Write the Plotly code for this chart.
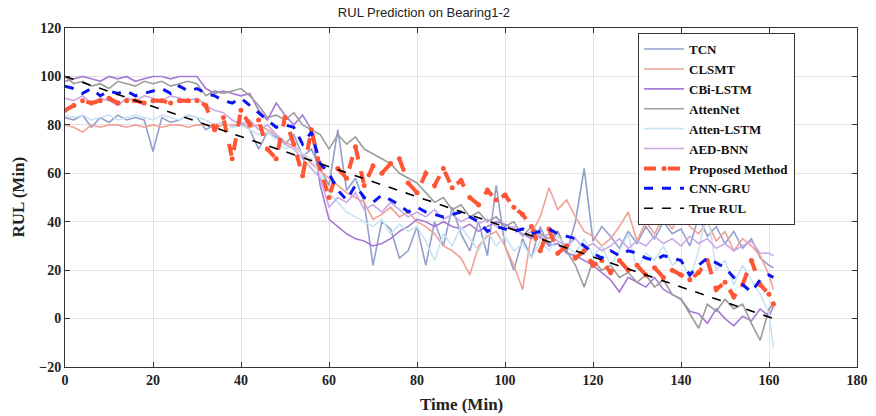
import plotly.graph_objects as go

time = list(range(0, 161, 2)) + [161]

true_t = [0, 161]
true_rul = [100, 0]

tcn = [83, 82, 84, 79, 83, 81, 84, 82, 83, 82,
       69, 83, 81, 82, 84, 83, 78, 80, 81, 79,
       81, 78, 70, 77, 75, 72, 76, 67, 70, 62,
       55, 78, 53, 58, 48, 22, 40, 37, 25, 28,
       38, 22, 40, 30, 46, 35, 28, 40, 26, 55,
       30, 20, 33, 25, 38, 30, 36, 27, 40, 62,
       32, 38, 34, 29, 36, 31, 38, 33, 40, 35,
       37, 30, 42, 34, 38, 31, 36, 29, 33, 25,
       22, 21]

clsmt = [80, 79, 77, 80, 79, 80, 80, 79, 80, 79,
         80, 79, 80, 80, 79, 80, 80, 79, 80, 80,
         80, 79, 80, 78, 76, 73, 71, 68, 64, 61,
         58, 55, 52, 50, 48, 41, 43, 46, 42, 44,
         40, 38, 35, 30, 28, 25, 18, 30, 34, 36,
         30, 22, 12, 35, 42, 54, 45, 49, 42, 36,
         34, 30, 33, 38, 44, 32, 40, 35, 42, 37,
         44, 38, 35, 40, 32, 36, 28, 33, 30, 26,
         18, 12]

cbi_lstm = [98, 99, 100, 99, 98, 100, 99, 100, 98, 99,
            100, 100, 99, 100, 100, 100, 95, 93, 94, 93,
            92, 93, 86, 82, 89, 84, 80, 84, 78, 55,
            41, 38, 35, 33, 32, 30, 31, 33, 36, 38,
            41, 40, 38, 40, 38, 37, 39, 36, 38, 40,
            39, 37, 35, 33, 34, 30, 31, 27, 26, 24,
            22, 19, 16, 11, 17, 15, 13, 17, 12, 10,
            8, 3, 2, -2, 4, 0, -3, 1, -1, 4,
            1, 5]

attennet = [100, 97, 98, 96, 97, 95, 98, 97, 96, 98,
            97, 98, 96, 97, 98, 97, 92, 94, 93, 94,
            95, 92, 88, 83, 84, 82, 85, 80, 78, 76,
            70, 76, 72, 75, 70, 68, 66, 64, 60, 58,
            56, 52, 48, 50, 45, 47, 42, 44, 40, 42,
            38, 40, 34, 38, 35, 33, 36, 28, 22, 13,
            24, 20, 22, 17, 19, 15, 18, 13, 16, 10,
            8, 2, -4, 6, 3, 8, 4, 6, -2, -9,
            4, 6]

atten_lstm = [84, 83, 84, 82, 83, 84, 82, 83, 84, 83,
              82, 84, 83, 82, 84, 83, 82, 80, 81, 79,
              80, 78, 76, 77, 74, 70, 72, 68, 66, 60,
              52, 48, 44, 42, 40, 38, 41, 35, 39, 36,
              38, 32, 24, 35, 30, 38, 33, 28, 36, 30,
              34, 28, 31, 25, 32, 28, 34, 30, 27, 33,
              26, 30, 22, 28, 35, 20, 27, 24, 30, 22,
              25, 16, 28, 45, 20, 24, 14, 22, 16, 10,
              2, -12]

aed_bnn = [91, 90, 92, 89, 91, 90, 88, 91, 90, 92,
           91, 90, 92, 91, 90, 91, 88, 86, 85, 82,
           80, 82, 78, 80, 76, 72, 70, 66, 62, 58,
           46, 50, 48, 52, 45, 47, 44, 48, 45, 42,
           44, 42, 45, 41, 43, 40, 42, 39, 41, 38,
           37, 38, 34, 36, 33, 35, 32, 30, 33, 29,
           31, 28, 30, 33, 29, 32, 30, 34, 31, 33,
           30, 34, 31, 33, 29, 31, 28, 30, 32, 27,
           27, 26]

proposed = [86, 88, 90, 89, 90, 91, 89, 90, 90, 89,
            90, 90, 89, 90, 90, 90, 88, 78, 83, 66,
            86, 80, 82, 70, 66, 83, 72, 59, 78, 62,
            50, 62, 58, 71, 55, 63, 60, 64, 66, 56,
            52, 60, 55, 62, 54, 57, 50, 47, 53, 49,
            51, 46, 43, 38, 28, 37, 27, 30, 25, 28,
            22, 24, 19, 24, 20, 22, 18, 21, 17, 20,
            18, 16, 19, 24, 12, 15, 9, 14, 24, 14,
            10, 6]

cnn_gru = [96, 95, 93, 95, 92, 94, 93, 94, 92, 93,
           94, 95, 93, 96, 94, 95, 93, 92, 90, 89,
           91, 88, 85, 82, 79, 80, 79, 72, 77, 64,
           60, 53, 49, 55, 50, 48, 51, 49, 47, 44,
           46, 44, 43, 42, 43, 44, 42, 40, 36, 38,
           37, 36, 37, 35, 36, 37, 35, 34, 33, 30,
           27, 25, 28, 26, 28, 27, 25, 24, 26, 25,
           24, 18, 22, 25, 23, 21, 17, 14, 11, 16,
           18, 17]

series = [
    ("TCN", tcn, "#939fcd", 1.6),
    ("CLSMT", clsmt, "#f2a196", 1.6),
    ("CBi-LSTM", cbi_lstm, "#a57bd6", 1.6),
    ("AttenNet", attennet, "#9c9c9c", 1.6),
    ("Atten-LSTM", atten_lstm, "#c8e3f1", 1.6),
    ("AED-BNN", aed_bnn, "#c7a9e8", 1.6),
]

fig = go.Figure()
for name, vals, col, w in series:
    fig.add_trace(go.Scatter(x=time, y=vals, mode="lines", name=name,
                             line=dict(color=col, width=w)))

fig.add_trace(go.Scatter(x=time, y=proposed, mode="lines+markers", name="Proposed Method",
                         line=dict(color="#ff5533", width=4, dash="dash"),
                         marker=dict(color="#ff5533", size=5)))
fig.add_trace(go.Scatter(x=time, y=cnn_gru, mode="lines", name="CNN-GRU",
                         line=dict(color="#0a14f0", width=3, dash="dash")))
fig.add_trace(go.Scatter(x=true_t, y=true_rul, mode="lines", name="True RUL",
                         line=dict(color="#000000", width=1.6, dash="dash")))

title_font = dict(family="Liberation Serif", size=17, color="#222222")
fig.update_layout(
    width=876, height=416,
    margin=dict(l=65, r=19, t=28, b=49, autoexpand=False),
    paper_bgcolor="white", plot_bgcolor="white",
    title=dict(text="RUL Prediction on Bearing1-2", x=0.484, xanchor="center",
               y=0.97, yanchor="middle",
               font=dict(family="Liberation Sans", size=13, color="#222222")),
    legend=dict(x=0.7235, y=0.985, xanchor="left", yanchor="top",
                bgcolor="white", bordercolor="#333333", borderwidth=1,
                font=dict(family="Liberation Serif", size=13, color="#111111"),
                tracegroupgap=0, itemwidth=40),
    showlegend=True,
    annotations=[
        dict(text="<b>Time (Min)</b>", xref="paper", yref="paper", x=0.5, y=-0.112,
             xanchor="center", yanchor="middle", showarrow=False, font=title_font),
        dict(text="<b>RUL (Min)</b>", xref="paper", yref="paper", x=-0.0593, y=0.5,
             xanchor="center", yanchor="middle", showarrow=False, textangle=-90,
             font=title_font),
    ],
)
fig.update_xaxes(range=[0, 180], dtick=20, showgrid=True, gridcolor="#e3e3e3",
                 zeroline=False, showline=True, linecolor="#333333", linewidth=1,
                 mirror="allticks", ticks="inside", ticklen=5, tickcolor="#333333",
                 tickfont=dict(family="Liberation Serif", size=14, color="#222222"),
                 tickprefix="<b>", ticksuffix="</b>")
fig.update_yaxes(range=[-20, 120], dtick=20, showgrid=True, gridcolor="#e3e3e3",
                 zeroline=False, showline=True, linecolor="#333333", linewidth=1,
                 mirror="allticks", ticks="inside", ticklen=5, tickcolor="#333333",
                 tickfont=dict(family="Liberation Serif", size=14, color="#222222"),
                 tickprefix="<b>", ticksuffix="</b>")

for tr in fig.data:
    tr.name = "<b>" + tr.name + "</b>"

fig.write_html("out.html")
